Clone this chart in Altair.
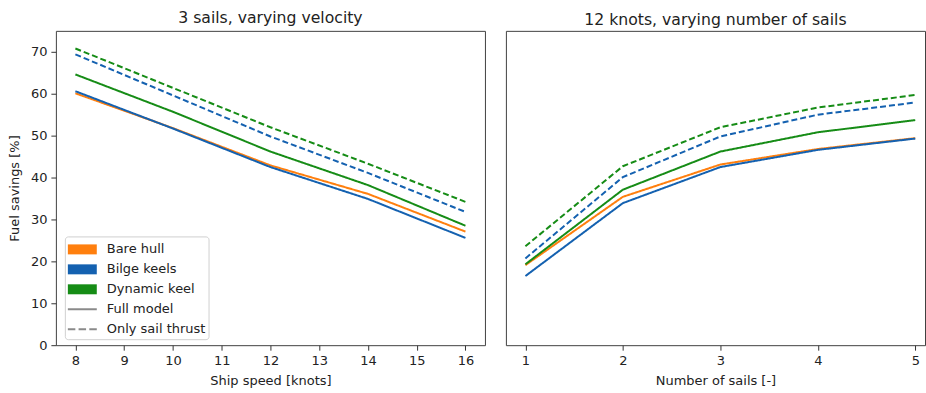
import altair as alt
import pandas as pd

# ---- data ----
speeds = [8, 10, 12, 14, 16]
sails = [1, 2, 3, 4, 5]
keels = ["Bare hull", "Bilge keels", "Dynamic keel"]
models = ["Full model", "Only sail thrust"]

speed_bare_full = [60.1, 51.8, 42.9, 36.1, 27.1]
speed_bilge_full = [60.6, 51.7, 42.5, 34.9, 25.6]
speed_dynamic_full = [64.6, 55.7, 46.2, 38.2, 28.5]
speed_bilge_sail = [69.4, 59.6, 49.8, 41.1, 31.8]
speed_dynamic_sail = [70.8, 61.4, 52.0, 43.3, 34.2]

sails_bare_full = [19.1, 35.4, 43.1, 46.8, 49.4]
sails_bilge_full = [16.5, 33.9, 42.5, 46.6, 49.3]
sails_dynamic_full = [19.3, 37.1, 46.2, 50.8, 53.7]
sails_bilge_sail = [20.7, 40.1, 49.8, 55.0, 57.9]
sails_dynamic_sail = [23.6, 42.7, 52.0, 56.7, 59.7]

speed_ticks = [8, 9, 10, 11, 12, 13, 14, 15, 16]
sail_ticks = [1, 2, 3, 4, 5]
y_ticks = [0, 10, 20, 30, 40, 50, 60, 70]

legend_entries = keels + models


def build(xs, series):
    rows = []
    for keel, model, vals in series:
        for x, v in zip(xs, vals):
            rows.append({"x": x, "value": v, "keel": keel, "model": model})
    return pd.DataFrame(rows)


df_left = build(speeds, [
    ("Bare hull", "Full model", speed_bare_full),
    ("Bilge keels", "Full model", speed_bilge_full),
    ("Dynamic keel", "Full model", speed_dynamic_full),
    ("Bilge keels", "Only sail thrust", speed_bilge_sail),
    ("Dynamic keel", "Only sail thrust", speed_dynamic_sail),
])
df_right = build(sails, [
    ("Bare hull", "Full model", sails_bare_full),
    ("Bilge keels", "Full model", sails_bilge_full),
    ("Dynamic keel", "Full model", sails_dynamic_full),
    ("Bilge keels", "Only sail thrust", sails_bilge_sail),
    ("Dynamic keel", "Only sail thrust", sails_dynamic_sail),
])
df_legend = pd.DataFrame({"entry": legend_entries})

ORANGE = "#ff7f0e"
BLUE = "#1461b0"
GREEN = "#168c16"
GRAY = "#8a8a8a"

# legend glyphs (unit path, scaled by the legend symbol size)
SWATCH = "M-1,-0.5H1.9V0.5H-1Z"
SOLID = "M-1,-0.1H1.9V0.1H-1Z"
DASHED = "M-1,-0.1H-0.25V0.1H-1Z M0.075,-0.1H0.825V0.1H0.075Z M1.15,-0.1H1.9V0.1H1.15Z"

line_scale = alt.Scale(domain=keels, range=[ORANGE, BLUE, GREEN])
color_scale = alt.Scale(domain=legend_entries, range=[ORANGE, BLUE, GREEN, GRAY, GRAY])
shape_scale = alt.Scale(domain=legend_entries, range=[SWATCH, SWATCH, SWATCH, SOLID, DASHED])
dash_scale = alt.Scale(domain=models, range=[[1, 0], [6, 3]])

legend = alt.Legend(
    title=None,
    orient="none",
    legendX=9,
    legendY=206,
    symbolSize=400,
    symbolOpacity=1,
    symbolStrokeWidth=0,
    labelOffset=19,
    labelFontSize=13,
    labelColor="#222222",
    labelFont="DejaVu Sans",
    rowPadding=3,
    padding=3,
    strokeColor="#d0d0d0",
    fillColor="white",
    cornerRadius=3,
)

axis_common = dict(
    grid=False,
    domain=False,
    ticks=True,
    tickSize=5,
    tickColor="#333333",
    labelFontSize=13,
    labelColor="#222222",
    titleFontSize=13,
    titleColor="#222222",
    titleFontWeight="normal",
)

y_scale = alt.Scale(domain=[0, 75], nice=False, zero=True)


def title(text):
    return alt.TitleParams(text, fontSize=15.7, fontWeight="normal", color="#222222",
                           offset=2.5, anchor="middle")


legend_layer = alt.Chart(df_legend).mark_point(filled=True, opacity=0).encode(
    x=alt.value(0),
    y=alt.value(0),
    color=alt.Color("entry:N", scale=color_scale, legend=legend),
    shape=alt.Shape("entry:N", scale=shape_scale, legend=legend),
)

left_lines = alt.Chart(df_left).mark_line(strokeWidth=2, clip=True).encode(
    x=alt.X("x:Q", scale=alt.Scale(domain=[7.6, 16.4], nice=False, zero=False),
            axis=alt.Axis(values=speed_ticks, format="d", title="Ship speed [knots]",
                          labelPadding=4, titlePadding=7, **axis_common)),
    y=alt.Y("value:Q", scale=y_scale,
            axis=alt.Axis(values=y_ticks, title="Fuel savings [%]",
                          labelPadding=4, titlePadding=9, **axis_common)),
    stroke=alt.Stroke("keel:N", scale=line_scale, legend=None),
    strokeDash=alt.StrokeDash("model:N", scale=dash_scale, legend=None),
)

left = alt.layer(legend_layer, left_lines, title=title("3 sails, varying velocity")).properties(
    width=430, height=315)

right = (
    alt.Chart(df_right, title=title("12 knots, varying number of sails"))
    .mark_line(strokeWidth=2, clip=True)
    .encode(
        x=alt.X("x:Q", scale=alt.Scale(domain=[0.8, 5.1], nice=False, zero=False),
                axis=alt.Axis(values=sail_ticks, format="d", title="Number of sails [-]",
                              labelPadding=4, titlePadding=7, **axis_common)),
        y=alt.Y("value:Q", scale=y_scale, axis=None),
        stroke=alt.Stroke("keel:N", scale=line_scale, legend=None),
        strokeDash=alt.StrokeDash("model:N", scale=dash_scale, legend=None),
    )
    .properties(width=420, height=315)
)

chart = (
    alt.hconcat(left, right, spacing=19)
    .properties(
        padding={"left": 7, "top": 8.5, "right": 0, "bottom": 5},
        background="white",
    )
    .configure(font="DejaVu Sans")
    .configure_view(stroke="#404040", strokeWidth=1)
)

chart.save("out.html", embed_options={"renderer": "svg", "actions": False})
